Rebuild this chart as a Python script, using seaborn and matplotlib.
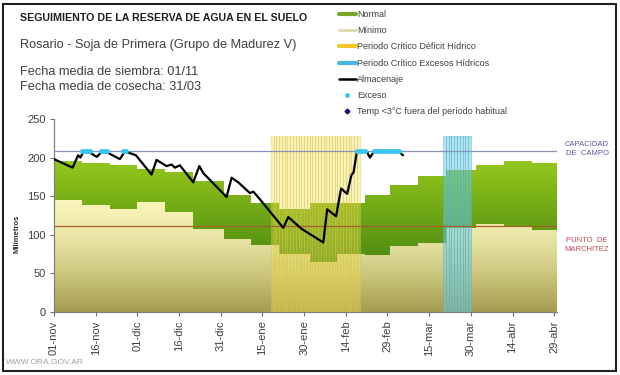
import numpy as np
import pandas as pd
import seaborn as sns
import matplotlib.pyplot as plt
from matplotlib.colors import LinearSegmentedColormap
from matplotlib.lines import Line2D
from matplotlib.patches import Rectangle

# Days are counted from 01-nov (day 0)
tick_pos = [0, 15, 30, 45, 60, 75, 90, 105, 120, 135, 150, 165, 180]
tick_labels = ["01-nov", "16-nov", "01-dic", "16-dic", "31-dic", "15-ene", "30-ene",
               "14-feb", "29-feb", "15-mar", "30-mar", "14-abr", "29-abr"]

# Dekadal limits of the normal band (upper / lower) and the minimum area
dekad_edges = [0, 10, 20, 30, 40, 50, 61, 71, 81, 92, 102, 112, 121, 131, 141, 152, 162, 172, 181]
normal_upper = [195, 193, 190, 185, 181, 170, 152, 141, 134, 141, 141, 151, 164, 176, 184, 191, 195, 193]
normal_lower = [145, 139, 134, 143, 129, 107, 94, 87, 75, 65, 75, 74, 86, 89, 109, 114, 110, 106]

# Soil water storage (Almacenaje)
alm_dia = [0, 6.7, 8.7, 9.5, 10.5, 12.6, 15.4, 17.1, 19.5, 23.7, 25.5, 29.5, 35.1, 36.9,
           40.5, 42.3, 43.5, 45.3, 50.1, 52.3, 53.7, 62.1, 63.9, 66.3, 70.5, 71.7, 74.1,
           82.5, 84.3, 89.0, 96.9, 98.3, 101.5, 103.3, 105.5, 107.0, 107.8, 109.0, 112.5,
           113.7, 115.0, 123.9, 125.6]
alm_mm = [198, 187, 203, 200, 207, 207, 201, 207, 206, 198, 208, 203, 178, 197,
          189, 191, 187, 190, 168, 189, 180, 149, 174, 168, 154, 156, 146,
          109, 123, 108, 90, 133, 124, 160, 153, 177, 181, 208, 208,
          200, 207, 208, 203]

# Excess days (storage at field capacity)
exceso_dia = [10, 11, 12, 13, 17, 18, 19, 25, 26, 109, 110, 111, 112,
              115, 116, 117, 118, 119, 120, 121, 122, 123, 124]
exceso_mm = [208] * len(exceso_dia)

capacidad_campo = 208
punto_marchitez = 111

# Critical periods (start day, end day, bar height)
deficit_periodo = (78, 110)
excesos_periodo = (140, 150)
periodo_altura = 228

sns.set_theme(style="white")
plt.rcParams['font.family'] = ['Liberation Sans', 'DejaVu Sans']

fig = plt.figure(figsize=(6.2, 3.75), dpi=100)
ax = fig.add_axes([54 / 620, 63 / 375, 503 / 620, 193 / 375])

up = np.append(normal_upper, normal_upper[-1])
lo = np.append(normal_lower, normal_lower[-1])
zeros = np.zeros(len(dekad_edges))


def gradient_fill(x, y1, y2, colors, ybot, ytop, z):
    poly = ax.fill_between(x, y1, y2, step="post", color="none", lw=0)
    cmap = LinearSegmentedColormap.from_list("g", colors)
    grad = np.linspace(0, 1, 256).reshape(-1, 1)
    im = ax.imshow(grad, cmap=cmap, aspect="auto", origin="lower",
                   extent=[x[0], x[-1], ybot, ytop], zorder=z, interpolation="bilinear")
    im.set_clip_path(poly.get_paths()[0], transform=ax.transData)


# Mínimo area (0 -> lower normal limit)
gradient_fill(dekad_edges, zeros, lo, ["#a39c4e", "#cdc77f", "#ebe7a8", "#fdf9bf"], 0, 150, 1)
# Normal band
gradient_fill(dekad_edges, lo, up, ["#4a8912", "#6fa816", "#98ca1c"], 60, 200, 2)

# Critical periods as daily bars
d_days = np.arange(deficit_periodo[0], deficit_periodo[1]) + 0.5
ax.bar(d_days, [periodo_altura] * len(d_days), width=1.0, color="#eedc50", alpha=0.4,
       edgecolor="#d8c640", linewidth=0.6, zorder=3)
e_days = np.arange(excesos_periodo[0], excesos_periodo[1]) + 0.5
ax.bar(e_days, [periodo_altura] * len(e_days), width=1.0, color="#6cc8e0", alpha=0.5,
       edgecolor="#48b0d0", linewidth=0.6, zorder=3)

ax.axhline(capacidad_campo, color="#8892c0", lw=0.9, zorder=4)
ax.axhline(punto_marchitez, color="#a8602a", lw=0.9, zorder=4)

alm = pd.DataFrame({"dia": alm_dia, "mm": alm_mm})
sns.lineplot(data=alm, x="dia", y="mm", color="black", lw=1.6, ax=ax, zorder=5)
exc = pd.DataFrame({"dia": exceso_dia, "mm": exceso_mm})
sns.scatterplot(data=exc, x="dia", y="mm", color="#3cc4f0", s=13, linewidth=0, ax=ax, zorder=6)

ax.set_xlim(0, 181)
ax.set_ylim(0, 250)
ax.set_xticks(tick_pos)
ax.set_xticklabels(tick_labels, rotation=90, fontsize=8, color="#404040")
ax.set_yticks([0, 50, 100, 150, 200, 250])
ax.set_yticklabels(["0", "50", "100", "150", "200", "250"], fontsize=8, color="#404040")
ax.tick_params(axis="both", length=3, width=0.8, color="#707070", bottom=True, left=True, pad=3)
ax.set_xlabel("")
ax.set_ylabel("")
for s in ["top", "right"]:
    ax.spines[s].set_visible(False)
for s in ["left", "bottom"]:
    ax.spines[s].set_color("#808080")
    ax.spines[s].set_linewidth(0.9)

fig.text(17 / 620, 1 - 234 / 375, "Milímetros", rotation=90, fontsize=5.5, fontweight="bold",
         ha="center", va="center", color="#303030")

fig.text(587 / 620, 1 - 149 / 375, "CAPACIDAD\nDE  CAMPO", fontsize=5.5, color="#5a5aa0",
         ha="center", va="center", linespacing=1.3)
fig.text(587 / 620, 1 - 245 / 375, "PUNTO  DE\nMARCHITEZ", fontsize=5.5, color="#c04858",
         ha="center", va="center", linespacing=1.3)

fig.text(20 / 620, 1 - 18 / 375, "SEGUIMIENTO DE LA RESERVA DE AGUA EN EL SUELO",
         fontsize=7.7, fontweight="bold", color="#202020", va="center")
fig.text(20 / 620, 1 - 45 / 375, "Rosario - Soja de Primera (Grupo de Madurez V)",
         fontsize=9.2, color="#404040", va="center")
fig.text(20 / 620, 1 - 72 / 375, "Fecha media de siembra: 01/11", fontsize=9.2,
         color="#404040", va="center")
fig.text(20 / 620, 1 - 87 / 375, "Fecha media de cosecha: 31/03", fontsize=9.2,
         color="#404040", va="center")
fig.text(6 / 620, 1 - 362 / 375, "WWW.ORA.GOV.AR", fontsize=6, color="#a0a0a0", va="center")

handles = [
    Line2D([], [], color="#78a628", lw=3),
    Line2D([], [], color="#dcdca4", lw=2),
    Line2D([], [], color="#f0c828", lw=3),
    Line2D([], [], color="#4cb6e0", lw=3),
    Line2D([], [], color="black", lw=1.8),
    Line2D([], [], color="#3cc4f0", marker="o", ms=2.5, lw=0),
    Line2D([], [], color="#1a1a80", marker="D", ms=2.5, lw=0),
]
labels = ["Normal", "Mínimo", "Periodo Crítico Déficit Hídrico",
          "Periodo Crítico Excesos Hídricos", "Almacenaje", "Exceso",
          "Temp <3°C fuera del período habitual"]
leg = fig.legend(handles, labels, loc="upper left", bbox_to_anchor=(339 / 620, 1 - 10 / 375),
                 frameon=False, fontsize=6.5, labelspacing=0.8, handlelength=1.85,
                 handletextpad=0.15, borderaxespad=0, borderpad=0)
for t in leg.get_texts():
    t.set_color("#404040")

fig.add_artist(Rectangle((3 / 620, 4 / 375), 613 / 620, 367 / 375, transform=fig.transFigure,
                         fill=False, lw=1.5, ec="#202020"))

fig.savefig("out.png", dpi=100)
